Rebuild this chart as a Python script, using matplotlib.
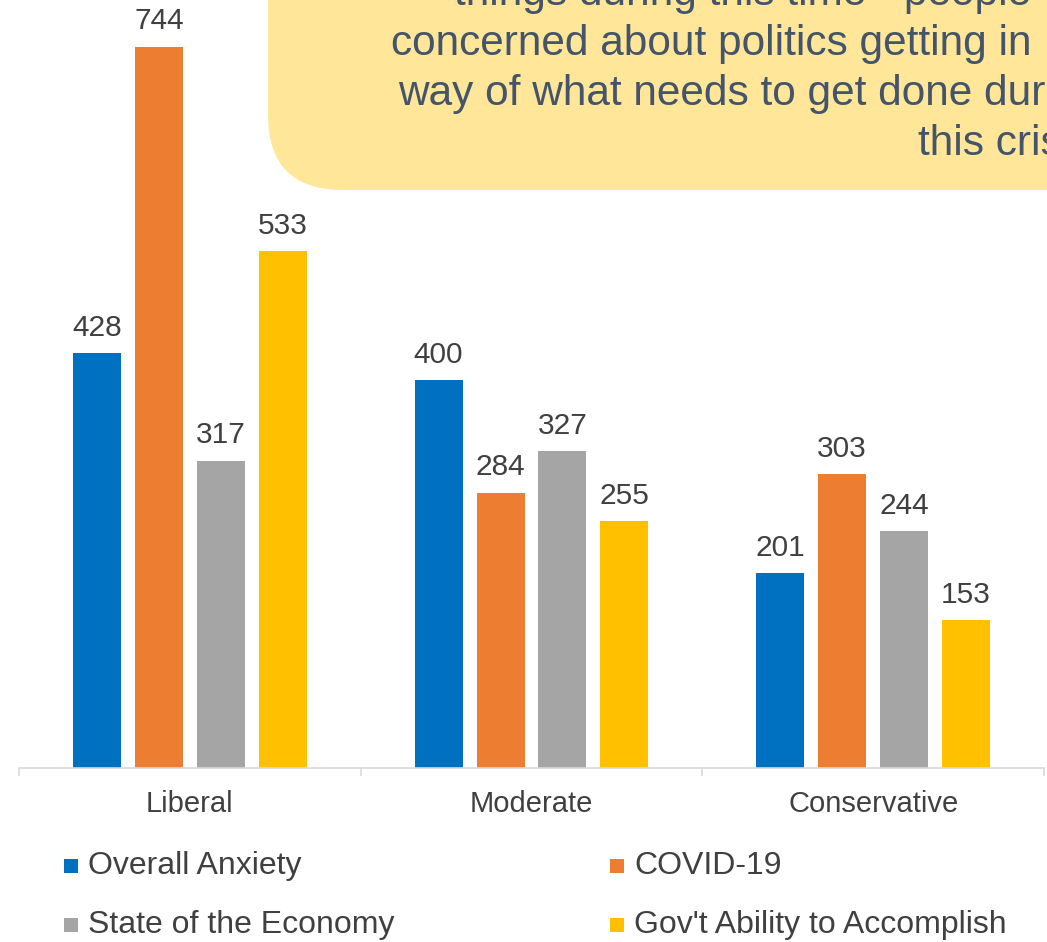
import numpy as np
import matplotlib.pyplot as plt
from matplotlib.patches import FancyBboxPatch
from matplotlib.transforms import IdentityTransform

plt.rcParams['font.family'] = ['Liberation Sans', 'DejaVu Sans']

# datos
categorias = ['Liberal', 'Moderate', 'Conservative']
series = ['Overall Anxiety', 'COVID-19', 'State of the Economy', "Gov't Ability to Accomplish"]
overall = [428, 400, 201]
covid = [744, 284, 303]
economia = [317, 327, 244]
gobierno = [533, 255, 153]
valores = [overall, covid, economia, gobierno]
colores = ['#0070C0', '#ED7D31', '#A5A5A5', '#FFC000']

# texto del recuadro (cortado por el borde, como en el original)
nota = ['things during this time - people',
        'concerned about politics getting in',
        'way of what needs to get done during',
        'this crisis']

W, H = 1047, 942
fig = plt.figure(figsize=(W / 100, H / 100), dpi=100)
ax = fig.add_axes([19 / W, (H - 768) / H, 1025 / W, 768 / H])

x = np.arange(len(categorias))
ancho = 0.1405
desp = [-0.2721, -0.0907, 0.0907, 0.2721]
for vals, col, d in zip(valores, colores, desp):
    barras = ax.bar(x + d, vals, ancho, color=col, zorder=2)
    ax.bar_label(barras, padding=8, fontsize=21.5, color='#404040')

ax.set_xlim(-0.5, 2.5)
ax.set_ylim(0, 792)
ax.set_yticks([])
for s in ['top', 'right', 'left']:
    ax.spines[s].set_visible(False)
ax.spines['bottom'].set_color('#D9D9D9')
ax.spines['bottom'].set_linewidth(1.2)
ax.set_xticks(x)
ax.set_xticklabels(categorias, fontsize=21, color='#404040')
ax.tick_params(axis='x', which='major', length=0, pad=16)
ax.set_xticks([-0.5, 0.5, 1.5, 2.5], minor=True)
ax.tick_params(axis='x', which='minor', length=6, color='#D9D9D9', width=1.2)
ax.set_facecolor('none')

# leyenda manual (2 columnas)
pos_ley = [(64, 866), (610, 866), (64, 925), (610, 925)]
for nombre, col, (px, py) in zip(series, colores, pos_ley):
    fig.patches.append(FancyBboxPatch((px, H - py - 7), 14, 14, boxstyle='square,pad=0',
                                      facecolor=col, edgecolor='none',
                                      transform=IdentityTransform(), figure=fig))
    fig.text((px + 24) / W, (H - py) / H, nombre, fontsize=23, color='#404040',
             ha='left', va='center')

# cuadro de texto amarillo
caja = FancyBboxPatch((268, H - 190), 1000, 400, boxstyle='round,pad=0,rounding_size=75',
                      facecolor='#FFE699', edgecolor='none',
                      transform=IdentityTransform(), figure=fig, zorder=3)
fig.patches.append(caja)
x_lineas = [454, 391, 398, 918]
y_lineas = [5, 55, 105, 155]
for txt, px, py in zip(nota, x_lineas, y_lineas):
    fig.text(px / W, (H - py) / H, txt, fontsize=30.5, color='#44546A',
             ha='left', va='baseline', zorder=4)

fig.savefig('out.png', dpi=100)
